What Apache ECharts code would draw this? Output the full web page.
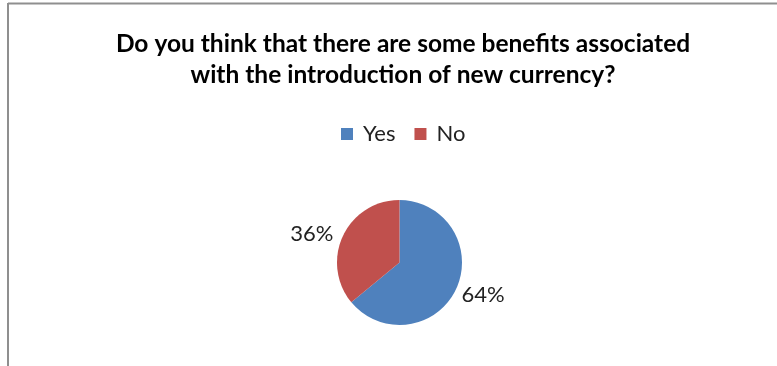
<!DOCTYPE html>
<html><head><meta charset="utf-8">
<script src="https://cdn.jsdelivr.net/npm/echarts@6/dist/echarts.min.js"></script>
<style>html,body{margin:0;padding:0;background:#fff}#c{width:777px;height:366px}</style>
</head><body><div id="c"></div>
<script>
const categories = ['Yes', 'No'];
const values = [64, 36];
const colors = ['#4F81BD', '#C0504D'];
const titleText = 'Do you think that there are some benefits associated\nwith the introduction of new currency?';

const chart = echarts.init(document.getElementById('c'), null, {renderer: 'canvas'});
chart.setOption({
  animation: false,
  backgroundColor: '#fff',
  title: {
    text: titleText,
    left: 398, top: 24, textAlign: 'center',
    textStyle: {fontFamily: 'Lato', fontWeight: 'bold', fontSize: 24.5, color: '#000', lineHeight: 31}
  },
  legend: {
    data: categories,
    top: 123, left: 341, padding: 0,
    itemWidth: 12, itemHeight: 12, itemGap: 19,
    icon: 'rect',
    textStyle: {fontFamily: 'Lato', fontSize: 22, color: '#222', padding: [0, 0, 0, 5]}
  },
  graphic: [
    {type: 'line', shape: {x1: 8, y1: 3.5, x2: 777, y2: 3.5}, style: {stroke: '#8f8f8f', lineWidth: 2}},
    {type: 'line', shape: {x1: 8, y1: 3, x2: 8, y2: 366}, style: {stroke: '#8f8f8f', lineWidth: 2}}
  ],
  series: [{
    type: 'pie',
    center: [399.5, 262.5],
    radius: 62.5,
    startAngle: 90,
    clockwise: true,
    data: categories.map((c, i) => ({name: c, value: values[i], itemStyle: {color: colors[i]}})),
    label: {
      show: true, position: 'outside',
      formatter: p => p.value + '%',
      fontFamily: 'Lato', fontSize: 22, color: '#222'
    },
    labelLine: {show: false, length: 5, length2: 0},
    labelLayout: p => p.dataIndex === 0 ? {dx: -4, dy: 4} : {},
    emphasis: {disabled: true}
  }]
});
</script></body></html>
